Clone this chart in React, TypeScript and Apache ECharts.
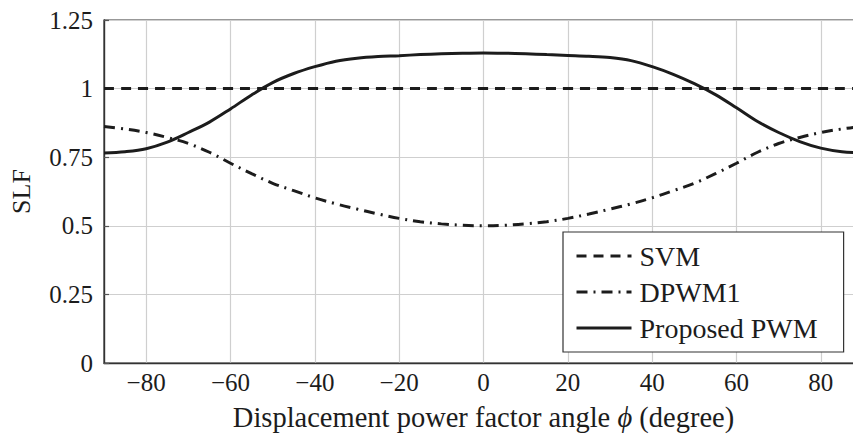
import React, { useEffect, useRef } from "react";
import * as echarts from "echarts";

// Displacement power factor angle (degree)
const phi = [
  -90, -85, -80, -75, -70, -65, -60, -55, -50, -45, -40, -35, -30, -25, -20, -15, -10, -5,
  0, 5, 10, 15, 20, 25, 30, 35, 40, 45, 50, 55, 60, 65, 70, 75, 80, 85, 90,
];

// SLF of each modulation scheme at the angles above
const svm = [
  1, 1, 1, 1, 1, 1, 1, 1, 1, 1, 1, 1, 1, 1, 1, 1, 1, 1,
  1, 1, 1, 1, 1, 1, 1, 1, 1, 1, 1, 1, 1, 1, 1, 1, 1, 1, 1,
];
const dpwm1 = [
  0.862, 0.853, 0.84, 0.822, 0.8, 0.768, 0.728, 0.69, 0.655, 0.628, 0.602, 0.58, 0.561, 0.543, 0.527, 0.515, 0.507, 0.502,
  0.5, 0.502, 0.507, 0.515, 0.527, 0.543, 0.561, 0.58, 0.602, 0.628, 0.655, 0.69, 0.728, 0.768, 0.8, 0.822, 0.84, 0.853, 0.862,
];
const proposed = [
  0.765, 0.77, 0.781, 0.805, 0.84, 0.878, 0.926, 0.977, 1.022, 1.055, 1.08, 1.1, 1.111, 1.117, 1.12, 1.124, 1.127, 1.129,
  1.13, 1.129, 1.127, 1.124, 1.121, 1.118, 1.113, 1.102, 1.08, 1.052, 1.018, 0.978, 0.93, 0.88, 0.84, 0.807, 0.783, 0.77, 0.766,
];

const seriesNames = ["SVM", "DPWM1", "Proposed PWM"];
const xTickStep = 20;
const yTicks = [0, 0.25, 0.5, 0.75, 1, 1.25];

const FONT = "'Liberation Serif', 'DejaVu Serif', serif";
const INK = "#1c1c1c";

export default function App() {
  const ref = useRef<HTMLDivElement>(null);

  useEffect(() => {
    if (!ref.current) return;
    const chart = echarts.init(ref.current, null, { renderer: "svg" });

    const pairs = (ys: number[]) => phi.map((x, i) => [x, ys[i]]);

    const lineSeries = (name: string, ys: number[], type: any) => ({
      name,
      type: "line",
      data: pairs(ys),
      smooth: 0.35,
      symbol: "none",
      showSymbol: false,
      lineStyle: { color: INK, width: 3, type },
      itemStyle: { color: INK },
      z: 3,
    });

    chart.setOption({
      animation: false,
      backgroundColor: "#fff",
      grid: {
        left: 104,
        top: 20,
        width: 759,
        height: 343,
        outerBoundsMode: "none",
        containLabel: false,
        show: true,
        borderColor: "#333",
        borderWidth: 1.2,
        backgroundColor: "transparent",
      },
      xAxis: {
        type: "value",
        min: -90,
        max: 90,
        interval: 10,
        axisLine: { show: true, onZero: false, lineStyle: { color: "#333", width: 1.4 } },
        axisTick: { show: false },
        axisLabel: {
          fontFamily: FONT,
          fontSize: 25,
          color: INK,
          margin: 7,
          showMinLabel: false,
          showMaxLabel: false,
          formatter: (v: number) => (v % xTickStep === 0 ? (v < 0 ? "\u2212" + Math.abs(v) : String(v)) : ""),
        },
        splitLine: {
          show: true,
          lineStyle: { color: ["rgba(0,0,0,0)", "#cfcfcf"], width: 1.2 },
        },
        name: "{t|Displacement power factor angle }{i|\u03D5}{t| (degree)}",
        nameLocation: "middle",
        nameGap: 40,
        nameTextStyle: {
          rich: {
            t: { fontFamily: FONT, fontSize: 28.5, color: INK },
            i: { fontFamily: FONT, fontSize: 28.5, color: INK, fontStyle: "italic" },
          },
        },
      },
      yAxis: {
        type: "value",
        min: yTicks[0],
        max: yTicks[yTicks.length - 1],
        interval: 0.25,
        axisLine: { show: true, onZero: false, lineStyle: { color: "#333", width: 1.4 } },
        axisTick: { show: true, inside: true, length: 5, lineStyle: { color: "#555", width: 1.2 } },
        axisLabel: {
          fontFamily: FONT,
          fontSize: 25,
          color: INK,
          margin: 11,
        },
        splitLine: { show: true, lineStyle: { color: "#cfcfcf", width: 1.2 } },
        name: "SLF",
        nameLocation: "middle",
        nameGap: 70,
        nameTextStyle: { fontFamily: FONT, fontSize: 26, color: INK },
      },
      legend: {
        orient: "vertical",
        left: 563,
        top: 232,
        itemWidth: 55,
        itemHeight: 14,
        itemGap: 8,
        padding: [10, 26, 10, 12],
        backgroundColor: "#fff",
        borderColor: "#333",
        borderWidth: 1.2,
        borderRadius: 0,
        itemStyle: { opacity: 0 },
        lineStyle: { width: 3 },
        textStyle: {
          fontFamily: FONT,
          fontSize: 28,
          lineHeight: 28,
          color: INK,
          padding: [0, 0, 0, 3],
        },
        data: seriesNames,
      },
      series: [
        lineSeries(seriesNames[0], svm, [10, 7]),
        lineSeries(seriesNames[1], dpwm1, [11, 6, 2, 6]),
        lineSeries(seriesNames[2], proposed, "solid"),
      ],
    });

    return () => chart.dispose();
  }, []);

  return (
    <div
      ref={ref}
      style={{ position: "fixed", left: 0, top: 0, width: 853, height: 435, background: "#fff" }}
    />
  );
}
